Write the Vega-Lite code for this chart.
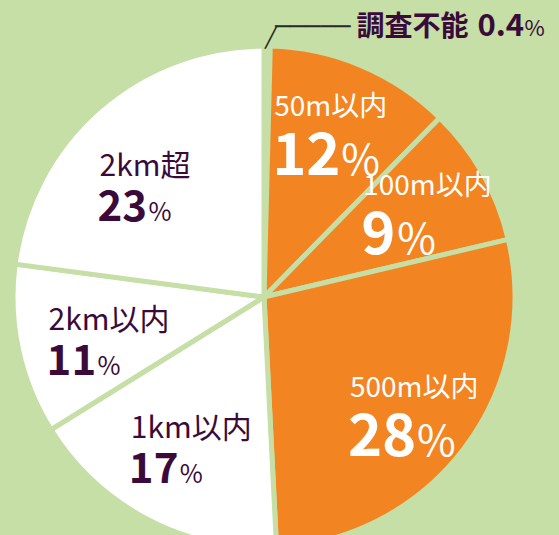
{
  "$schema": "https://vega.github.io/schema/vega-lite/v6.json",
  "width": 528,
  "height": 476,
  "autosize": {"type": "none"},
  "padding": {"left": 0, "top": 59, "right": 31, "bottom": 0},
  "background": "#c5dfa6",
  "config": {"view": {"stroke": null}, "text": {"font": "Noto Sans CJK JP"}},
  "data": {
    "values": [
      {"idx": 0, "name": "調査不能", "value": 0.4, "g": "none"},
      {"idx": 1, "name": "50m以内", "value": 12, "g": "orange"},
      {"idx": 2, "name": "100m以内", "value": 9, "g": "orange"},
      {"idx": 3, "name": "500m以内", "value": 28, "g": "orange"},
      {"idx": 4, "name": "1km以内", "value": 17, "g": "white"},
      {"idx": 5, "name": "2km以内", "value": 11, "g": "white"},
      {"idx": 6, "name": "2km超", "value": 23, "g": "white"}
    ]
  },
  "encoding": {
    "theta": {"field": "value", "type": "quantitative", "stack": true},
    "order": {"field": "idx", "type": "quantitative"}
  },
  "layer": [
    {
      "mark": {"type": "arc", "radius": 251, "stroke": "#c5dfa6", "strokeWidth": 5},
      "encoding": {
        "color": {
          "field": "g", "type": "nominal",
          "scale": {"domain": ["none", "orange", "white"], "range": ["#c5dfa6", "#f28522", "#ffffff"]},
          "legend": null
        }
      }
    },
    {
      "mark": {"type": "text", "radius": 185, "dx": -62, "dy": -11, "align": "left", "baseline": "alphabetic", "fontSize": 28, "fill": "#ffffff"},
      "encoding": {"text": {"condition": {"test": "datum.g === 'orange'", "field": "name", "type": "nominal"}, "value": ""}}
    },
    {
      "mark": {"type": "text", "radius": 185, "dx": -64, "dy": 48, "align": "left", "baseline": "alphabetic", "fontSize": 58, "fontWeight": "bold", "fill": "#ffffff"},
      "encoding": {"text": {"condition": {"test": "datum.g === 'orange'", "field": "value", "type": "quantitative"}, "value": ""}}
    },
    {
      "mark": {"type": "text", "radius": 185, "dx": 5, "dy": 48, "align": "left", "baseline": "alphabetic", "fontSize": 42, "fill": "#ffffff"},
      "encoding": {"text": {"condition": {"test": "datum.g === 'orange' && datum.value >= 10", "value": "%"}, "value": ""}}
    },
    {
      "mark": {"type": "text", "radius": 185, "dx": -28, "dy": 48, "align": "left", "baseline": "alphabetic", "fontSize": 42, "fill": "#ffffff"},
      "encoding": {"text": {"condition": {"test": "datum.g === 'orange' && datum.value < 10", "value": "%"}, "value": ""}}
    },
    {
      "mark": {"type": "text", "radius": 160, "dx": -59, "dy": -1, "align": "left", "baseline": "alphabetic", "fontSize": 30, "fill": "#3a0b3a"},
      "encoding": {"text": {"condition": {"test": "datum.g === 'white'", "field": "name", "type": "nominal"}, "value": ""}}
    },
    {
      "mark": {"type": "text", "radius": 160, "dx": -61, "dy": 44, "align": "left", "baseline": "alphabetic", "fontSize": 42, "fontWeight": "bold", "fill": "#3a0b3a"},
      "encoding": {"text": {"condition": {"test": "datum.g === 'white'", "field": "value", "type": "quantitative"}, "value": ""}}
    },
    {
      "mark": {"type": "text", "radius": 160, "dx": -10, "dy": 44, "align": "left", "baseline": "alphabetic", "fontSize": 25, "fill": "#3a0b3a"},
      "encoding": {"text": {"condition": {"test": "datum.g === 'white' && datum.value >= 10", "value": "%"}, "value": ""}}
    },
    {
      "mark": {"type": "text", "radius": 160, "dx": -35, "dy": 44, "align": "left", "baseline": "alphabetic", "fontSize": 25, "fill": "#3a0b3a"},
      "encoding": {"text": {"condition": {"test": "datum.g === 'white' && datum.value < 10", "value": "%"}, "value": ""}}
    },
    {
      "mark": {"type": "text", "radius": 273, "dx": 89, "dy": 12, "align": "left", "baseline": "alphabetic", "fontSize": 28, "fontWeight": "bold", "fill": "#3a0b3a"},
      "encoding": {"text": {"condition": {"test": "datum.g === 'none'", "field": "name", "type": "nominal"}, "value": ""}}
    },
    {
      "mark": {"type": "text", "radius": 273, "dx": 210, "dy": 12, "align": "left", "baseline": "alphabetic", "fontSize": 31, "fontWeight": "bold", "fill": "#3a0b3a"},
      "encoding": {"text": {"condition": {"test": "datum.g === 'none'", "field": "value", "type": "quantitative"}, "value": ""}}
    },
    {
      "mark": {"type": "text", "radius": 273, "dx": 257, "dy": 12, "align": "left", "baseline": "alphabetic", "fontSize": 22, "fill": "#3a0b3a"},
      "encoding": {"text": {"condition": {"test": "datum.g === 'none'", "value": "%"}, "value": ""}}
    },
    {
      "mark": {"type": "text", "radius": 273, "dx": -2.4, "dy": 19.5, "align": "left", "baseline": "alphabetic", "fontSize": 20, "font": "DejaVu Sans Mono", "fill": "#2a2a2a"},
      "encoding": {"text": {"condition": {"test": "datum.g === 'none'", "value": "╱"}, "value": ""}}
    },
    {
      "mark": {"type": "text", "radius": 273, "dx": 7.6, "dy": 10.6, "align": "left", "baseline": "alphabetic", "fontSize": 25, "font": "DejaVu Sans Mono", "fill": "#2a2a2a"},
      "encoding": {"text": {"condition": {"test": "datum.g === 'none'", "value": "─────"}, "value": ""}}
    }
  ]
}
